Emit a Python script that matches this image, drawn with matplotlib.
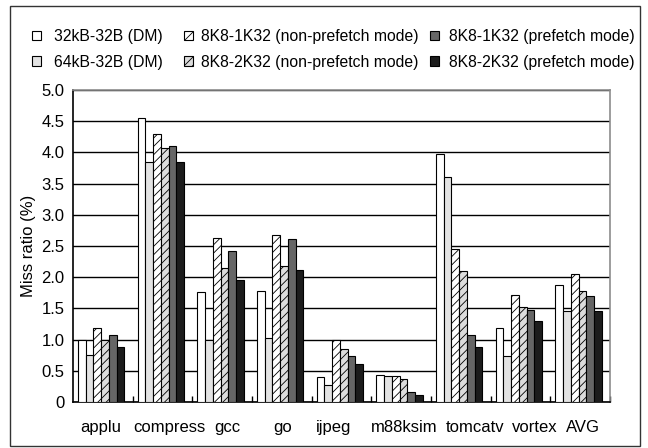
import numpy as np
import matplotlib
matplotlib.use("Agg")
import matplotlib.pyplot as plt
from matplotlib.patches import Patch, Rectangle
from matplotlib.ticker import FixedLocator, FuncFormatter

plt.rcParams['font.family'] = ['Liberation Sans', 'DejaVu Sans']
plt.rcParams['hatch.linewidth'] = 0.6

benchmarks = ['applu', 'compress', 'gcc', 'go', 'ijpeg', 'm88ksim', 'tomcatv', 'vortex', 'AVG']
# small sideways nudges so the long names don't run into each other
label_shift = [-0.04, 0.12, 0.09, 0.02, -0.13, 0.05, 0.23, 0.23, 0.05]

dm_32k = [1.00, 4.55, 1.76, 1.78, 0.40, 0.44, 3.98, 1.19, 1.88]
dm_64k = [0.76, 3.85, 1.00, 1.03, 0.28, 0.41, 3.61, 0.73, 1.46]
np_1k32 = [1.19, 4.29, 2.63, 2.67, 0.99, 0.41, 2.45, 1.72, 2.05]
np_2k32 = [0.99, 4.07, 2.15, 2.18, 0.85, 0.37, 2.10, 1.52, 1.78]
pf_1k32 = [1.07, 4.10, 2.42, 2.62, 0.74, 0.16, 1.07, 1.48, 1.70]
pf_2k32 = [0.88, 3.85, 1.95, 2.11, 0.61, 0.11, 0.88, 1.30, 1.46]

series = [dm_32k, dm_64k, np_1k32, np_2k32, pf_1k32, pf_2k32]
labels = ['32kB-32B (DM)', '64kB-32B (DM)',
          '8K8-1K32 (non-prefetch mode)', '8K8-2K32 (non-prefetch mode)',
          '8K8-1K32 (prefetch mode)', '8K8-2K32 (prefetch mode)']
colors = ['white', '#e3e3e3', 'white', '#dcdcdc', '#666666', '#1c1c1c']
hatches = [None, None, '////', '////', None, None]

fig = plt.figure(figsize=(6.48, 4.48), dpi=100)
ax = fig.add_axes([0.1127, 0.1027, 0.8287, 0.6963])

x = np.arange(len(benchmarks))
bw = 0.129
start = -0.5 + 0.085
for k, vals in enumerate(series):
    ax.bar(x + start + k * bw, vals, width=bw, align='edge', color=colors[k],
           edgecolor='black', linewidth=0.8, hatch=hatches[k], zorder=3)

ax.set_xlim(-0.5, len(benchmarks) - 0.5)
ax.set_ylim(0, 5.0)
ax.set_yticks(np.arange(0, 5.01, 0.5))
ax.yaxis.set_major_formatter(FuncFormatter(lambda v, p: '0' if v == 0 else f'{v:.1f}'))
ax.tick_params(axis='y', length=0, labelsize=12, pad=6)
ax.set_ylabel('Miss ratio (%)', fontsize=12, labelpad=4)
ax.yaxis.grid(True, color='black', linewidth=1.0, zorder=0)
ax.set_axisbelow(True)

ax.set_xticks(x + np.array(label_shift))
ax.set_xticklabels(benchmarks, fontsize=12)
ax.tick_params(axis='x', which='major', length=0, pad=13)
ax.xaxis.set_minor_locator(FixedLocator(np.arange(0.5, len(benchmarks) - 0.4, 1.0)))
ax.tick_params(axis='x', which='minor', direction='in', length=4, width=1, color='black')

for s in ['left', 'bottom']:
    ax.spines[s].set_color('black')
    ax.spines[s].set_linewidth(1.2)
for s in ['top', 'right']:
    ax.spines[s].set_color('#8c8c8c')
    ax.spines[s].set_linewidth(1.2)

# legend: three columns of two entries each
handles = [Patch(facecolor=colors[k], edgecolor='black', linewidth=0.8, hatch=hatches[k])
           for k in range(len(series))]
col_x = [32 / 648, 184 / 648, 430 / 648]
col_pad = [0.83, 0.51, 0.64]
for c in range(3):
    fig.legend(handles[2 * c:2 * c + 2], labels[2 * c:2 * c + 2],
               loc='upper left', bbox_to_anchor=(col_x[c], 1 - 29 / 448),
               frameon=False, fontsize=11.3, handlelength=0.55, handleheight=0.55,
               handletextpad=col_pad[c], labelspacing=0.68, borderpad=0,
               borderaxespad=0)

# outer frame around the whole figure
fig.add_artist(Rectangle((10 / 648, 2 / 448), 630 / 648, 440 / 448,
                         transform=fig.transFigure, fill=False,
                         edgecolor='#333333', linewidth=1.0))

fig.savefig('out.png', dpi=100)
